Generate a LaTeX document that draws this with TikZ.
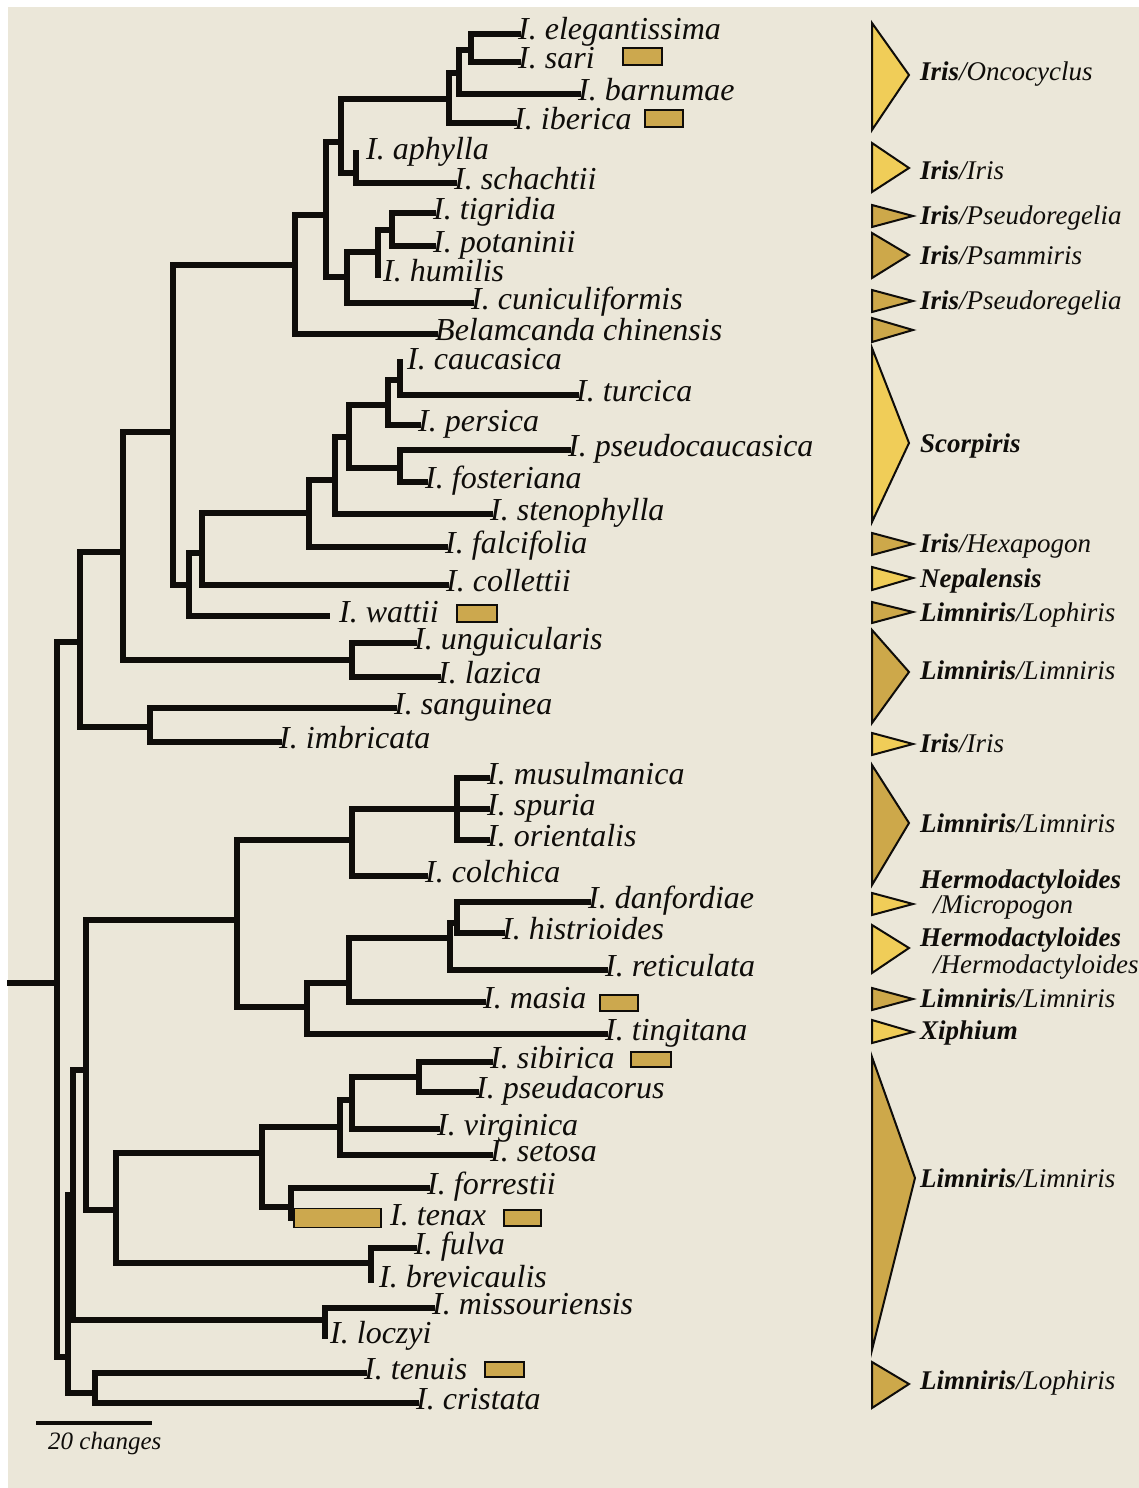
\documentclass[tikz,border=0pt]{standalone}
\usepackage{fontspec}
\setmainfont{Liberation Serif}
\definecolor{bg}{RGB}{235,231,217}
\definecolor{ink}{RGB}{15,13,10}
\definecolor{boxgold}{RGB}{204,168,78}
\definecolor{lighty}{RGB}{240,205,88}
\definecolor{goldy}{RGB}{205,168,74}
\begin{document}
\begin{tikzpicture}[x=1pt,y=-1pt,
  br/.style={line width=6pt,draw=ink,line cap=rect,line join=miter},
  leaf/.style={anchor=base west,inner sep=0pt,text=ink,font=\fontsize{32}{36}\selectfont\itshape},
  grp/.style={anchor=base west,inner sep=0pt,text=ink,font=\fontsize{27}{30}\selectfont\itshape},
  goldbox/.style={fill=boxgold,draw=ink,line width=1.8pt},
  tri/.style={draw=ink,line width=2pt,line join=miter}]
\useasboundingbox (0,0) rectangle (1139,1488);
\fill[white] (0,0) rectangle (1139,1488);
\fill[bg] (8,7) rectangle (1139,1488);

% ---------- internal nodes ----------
\coordinate (stub) at (10,983);
\coordinate (root) at (57,983);
\coordinate (nO) at (80,642);
\coordinate (nZ) at (68,1357);
\coordinate (nN) at (123,552);
\coordinate (nP) at (150,727);
\coordinate (nH) at (173,432);
\coordinate (nUL) at (352,660);
\coordinate (nG) at (295,265);
\coordinate (nM) at (189,585);
\coordinate (nE) at (326,215);
\coordinate (nD) at (341,142);
\coordinate (nF) at (347,277);
\coordinate (nC) at (449,99);
\coordinate (nB) at (459,73);
\coordinate (nES) at (471,50);
\coordinate (nAS) at (356,173);
\coordinate (nHu) at (378,252);
\coordinate (nTP) at (392,230);
\coordinate (nL) at (202,553);
\coordinate (nK) at (309,513);
\coordinate (nJ) at (335,480);
\coordinate (nI) at (349,437);
\coordinate (nPe) at (388,405);
\coordinate (nCT) at (400,380);
\coordinate (nPF) at (400,468);
\coordinate (nY) at (73,1195);
\coordinate (nTC) at (95,1393);
\coordinate (nQ) at (86,1070);
\coordinate (nML) at (325,1320);
\coordinate (nR) at (237,920);
\coordinate (nX) at (116,1210);
\coordinate (nS) at (352,840);
\coordinate (nU) at (457,809);
\coordinate (nT) at (307,1007);
\coordinate (nV) at (349,983);
\coordinate (nW) at (450,938);
\coordinate (nDH) at (457,923);
\coordinate (nX1) at (262,1153);
\coordinate (nX2) at (340,1127);
\coordinate (nX3) at (352,1100);
\coordinate (nSP) at (419,1077);
\coordinate (nFT) at (291,1207);
\coordinate (nFB) at (371,1263);

% ---------- leaves ----------
\coordinate (eleg) at (518,34);
\coordinate (sari) at (518,62);
\coordinate (barn) at (578,94);
\coordinate (iber) at (514,123);
\coordinate (aphy) at (356,153);
\coordinate (scha) at (454,183);
\coordinate (tigr) at (433,213);
\coordinate (pota) at (433,246);
\coordinate (humi) at (378,275);
\coordinate (cuni) at (471,303);
\coordinate (bela) at (435,334);
\coordinate (cauc) at (400,362);
\coordinate (turc) at (576,395);
\coordinate (pers) at (418,425);
\coordinate (pscau) at (568,450);
\coordinate (fost) at (425,482);
\coordinate (sten) at (490,514);
\coordinate (falc) at (445,547);
\coordinate (coll) at (446,585);
\coordinate (watt) at (327,616);
\coordinate (ungu) at (414,643);
\coordinate (lazi) at (438,677);
\coordinate (sang) at (394,708);
\coordinate (imbr) at (279,742);
\coordinate (musu) at (487,778);
\coordinate (spur) at (487,809);
\coordinate (orie) at (487,840);
\coordinate (colc) at (425,876);
\coordinate (danf) at (588,902);
\coordinate (hist) at (502,933);
\coordinate (reti) at (605,970);
\coordinate (masi) at (483,1002);
\coordinate (ting) at (605,1034);
\coordinate (sibi) at (490,1062);
\coordinate (pacor) at (476,1092);
\coordinate (virg) at (437,1129);
\coordinate (seto) at (490,1155);
\coordinate (forr) at (427,1188);
\coordinate (fulv) at (414,1248);
\coordinate (brev) at (371,1280);
\coordinate (miss) at (432,1308);
\coordinate (locz) at (325,1336);
\coordinate (tenu) at (364,1373);
\coordinate (cris) at (416,1403);
\coordinate (tenaxW) at (293,1218);

% ---------- branches ----------
\draw[br] (stub) -- (root);
\draw[br] (root) |- (nO) (root) |- (nZ);
\draw[br] (nO) |- (nN) (nO) |- (nP);
\draw[br] (nN) |- (nH) (nN) |- (nUL);
\draw[br] (nH) |- (nG) (nH) |- (nM);
\draw[br] (nG) |- (nE) (nG) |- (bela);
\draw[br] (nE) |- (nD) (nE) |- (nF);
\draw[br] (nD) |- (nC) (nD) |- (nAS);
\draw[br] (nC) |- (nB) (nC) |- (iber);
\draw[br] (nB) |- (nES) (nB) |- (barn);
\draw[br] (nES) |- (eleg) (nES) |- (sari);
\draw[br] (nAS) |- (aphy) (nAS) |- (scha);
\draw[br] (nF) |- (nHu) (nF) |- (cuni);
\draw[br] (nHu) |- (nTP) (nHu) |- (humi);
\draw[br] (nTP) |- (tigr) (nTP) |- (pota);
\draw[br] (nM) |- (nL) (nM) |- (watt);
\draw[br] (nL) |- (nK) (nL) |- (coll);
\draw[br] (nK) |- (nJ) (nK) |- (falc);
\draw[br] (nJ) |- (nI) (nJ) |- (sten);
\draw[br] (nI) |- (nPe) (nI) |- (nPF);
\draw[br] (nPe) |- (nCT) (nPe) |- (pers);
\draw[br] (nCT) |- (cauc) (nCT) |- (turc);
\draw[br] (nPF) |- (pscau) (nPF) |- (fost);
\draw[br] (nUL) |- (ungu) (nUL) |- (lazi);
\draw[br] (nP) |- (sang) (nP) |- (imbr);
\draw[br] (nZ) |- (nY) (nZ) |- (nTC);
\draw[br] (nY) |- (nQ) (nY) |- (nML);
\draw[br] (nQ) |- (nR) (nQ) |- (nX);
\draw[br] (nR) |- (nS) (nR) |- (nT);
\draw[br] (nS) |- (nU) (nS) |- (colc);
\draw[br] (nU) |- (musu) (nU) |- (spur) (nU) |- (orie);
\draw[br] (nT) |- (nV) (nT) |- (ting);
\draw[br] (nV) |- (nW) (nV) |- (masi);
\draw[br] (nW) |- (nDH) (nW) |- (reti);
\draw[br] (nDH) |- (danf) (nDH) |- (hist);
\draw[br] (nX) |- (nX1) (nX) |- (nFB);
\draw[br] (nX1) |- (nX2) (nX1) |- (nFT);
\draw[br] (nX2) |- (nX3) (nX2) |- (seto);
\draw[br] (nX3) |- (nSP) (nX3) |- (virg);
\draw[br] (nSP) |- (sibi) (nSP) |- (pacor);
\draw[br] (nFT) |- (forr) (nFT) |- (tenaxW);
\draw[br] (nFB) |- (fulv) (nFB) |- (brev);
\draw[br] (nML) |- (miss) (nML) |- (locz);
\draw[br] (nTC) |- (tenu) (nTC) |- (cris);
\node[goldbox,minimum width=87pt,minimum height=19pt,anchor=west,inner sep=0pt] (tenaxbar) at (tenaxW) {};

% ---------- leaf labels ----------
\node[leaf] (Leleg) at ([yshift=-6pt]eleg) {I. elegantissima};
\node[leaf] (Lsari) at ([yshift=-6pt]sari) {I. sari};
\node[leaf] (Lbarn) at ([yshift=-6pt]barn) {I. barnumae};
\node[leaf] (Liber) at ([yshift=-6pt]iber) {I. iberica};
\node[leaf] (Laphy) at (366,159) {I. aphylla};
\node[leaf] (Lscha) at ([yshift=-6pt]scha) {I. schachtii};
\node[leaf] (Ltigr) at ([yshift=-6pt]tigr) {I. tigridia};
\node[leaf] (Lpota) at ([yshift=-6pt]pota) {I. potaninii};
\node[leaf] (Lhumi) at (383,281) {I. humilis};
\node[leaf] (Lcuni) at ([yshift=-6pt]cuni) {I. cuniculiformis};
\node[leaf] (Lbela) at ([yshift=-6pt]bela) {Belamcanda chinensis};
\node[leaf] (Lcauc) at (407,369) {I. caucasica};
\node[leaf] (Lturc) at ([yshift=-6pt]turc) {I. turcica};
\node[leaf] (Lpers) at ([yshift=-6pt]pers) {I. persica};
\node[leaf] (Lpscau) at ([yshift=-6pt]pscau) {I. pseudocaucasica};
\node[leaf] (Lfost) at ([yshift=-6pt]fost) {I. fosteriana};
\node[leaf] (Lsten) at ([yshift=-6pt]sten) {I. stenophylla};
\node[leaf] (Lfalc) at ([yshift=-6pt]falc) {I. falcifolia};
\node[leaf] (Lcoll) at ([yshift=-6pt]coll) {I. collettii};
\node[leaf] (Lwatt) at (339,622) {I. wattii};
\node[leaf] (Lungu) at ([yshift=-6pt]ungu) {I. unguicularis};
\node[leaf] (Llazi) at ([yshift=-6pt]lazi) {I. lazica};
\node[leaf] (Lsang) at ([yshift=-6pt]sang) {I. sanguinea};
\node[leaf] (Limbr) at ([yshift=-6pt]imbr) {I. imbricata};
\node[leaf] (Lmusu) at ([yshift=-6pt]musu) {I. musulmanica};
\node[leaf] (Lspur) at ([yshift=-6pt]spur) {I. spuria};
\node[leaf] (Lorie) at ([yshift=-6pt]orie) {I. orientalis};
\node[leaf] (Lcolc) at ([yshift=-6pt]colc) {I. colchica};
\node[leaf] (Ldanf) at ([yshift=-6pt]danf) {I. danfordiae};
\node[leaf] (Lhist) at ([yshift=-6pt]hist) {I. histrioides};
\node[leaf] (Lreti) at ([yshift=-6pt]reti) {I. reticulata};
\node[leaf] (Lmasi) at ([yshift=-6pt]masi) {I. masia};
\node[leaf] (Lting) at ([yshift=-6pt]ting) {I. tingitana};
\node[leaf] (Lsibi) at ([yshift=-6pt]sibi) {I. sibirica};
\node[leaf] (Lpacor) at ([yshift=-6pt]pacor) {I. pseudacorus};
\node[leaf] (Lvirg) at ([yshift=-6pt]virg) {I. virginica};
\node[leaf] (Lseto) at ([yshift=-6pt]seto) {I. setosa};
\node[leaf] (Lforr) at ([yshift=-6pt]forr) {I. forrestii};
\node[leaf] (Ltena) at (390,1225) {I. tenax};
\node[leaf] (Lfulv) at ([yshift=-6pt]fulv) {I. fulva};
\node[leaf] (Lbrev) at (379,1287) {I. brevicaulis};
\node[leaf] (Lmiss) at ([yshift=-6pt]miss) {I. missouriensis};
\node[leaf] (Llocz) at (330,1343) {I. loczyi};
\node[leaf] (Ltenu) at ([yshift=-6pt]tenu) {I. tenuis};
\node[leaf] (Lcris) at ([yshift=-6pt]cris) {I. cristata};

% ---------- gold boxes ----------
\draw[goldbox] (623,48) rectangle (662,65);
\draw[goldbox] (645,110) rectangle (683,127);
\draw[goldbox] (457,605) rectangle (497,622);
\draw[goldbox] (600,995) rectangle (638,1011);
\draw[goldbox] (631,1052) rectangle (671,1067);
\draw[goldbox] (504,1210) rectangle (541,1226);
\draw[goldbox] (485,1362) rectangle (524,1377);

% ---------- scale bar ----------
\coordinate (sbA) at (36,1423);
\coordinate (sbB) at (152,1423);
\draw[line width=4.5pt,draw=ink] (sbA) -- (sbB);
\node[anchor=base west,inner sep=0pt,text=ink,font=\fontsize{25}{28}\selectfont\itshape] (sbL) at (48,1449) {20 changes};

% ---------- clade triangles ----------
\draw[tri,fill=lighty] (872,23) -- (909,75) -- (872,130) -- cycle;
\draw[tri,fill=lighty] (872,143) -- (909,168) -- (872,192) -- cycle;
\draw[tri,fill=goldy] (872,205) -- (913,216) -- (872,227) -- cycle;
\draw[tri,fill=goldy] (872,233) -- (909,255) -- (872,278) -- cycle;
\draw[tri,fill=goldy] (872,290) -- (913,301) -- (872,312) -- cycle;
\draw[tri,fill=goldy] (872,318) -- (913,330) -- (872,342) -- cycle;
\draw[tri,fill=lighty] (872,348) -- (909,443) -- (872,522) -- cycle;
\draw[tri,fill=goldy] (872,533) -- (913,544) -- (872,555) -- cycle;
\draw[tri,fill=lighty] (872,567) -- (913,578) -- (872,590) -- cycle;
\draw[tri,fill=goldy] (872,602) -- (913,612) -- (872,623) -- cycle;
\draw[tri,fill=goldy] (872,630) -- (909,672) -- (872,723) -- cycle;
\draw[tri,fill=lighty] (872,733) -- (913,744) -- (872,755) -- cycle;
\draw[tri,fill=goldy] (872,765) -- (909,823) -- (872,885) -- cycle;
\draw[tri,fill=lighty] (872,893) -- (913,904) -- (872,915) -- cycle;
\draw[tri,fill=lighty] (872,925) -- (909,948) -- (872,973) -- cycle;
\draw[tri,fill=goldy] (872,988) -- (913,999) -- (872,1010) -- cycle;
\draw[tri,fill=lighty] (872,1020) -- (913,1032) -- (872,1043) -- cycle;
\draw[tri,fill=goldy] (872,1057) -- (915,1178) -- (872,1350) -- cycle;
\draw[tri,fill=goldy] (872,1362) -- (909,1384) -- (872,1408) -- cycle;

% ---------- clade labels ----------
\node[grp] (g1) at (920,81) {\textbf{Iris}/Oncocyclus};
\node[grp] (g2) at (920,179) {\textbf{Iris}/Iris};
\node[grp] (g3) at (920,224) {\textbf{Iris}/Pseudoregelia};
\node[grp] (g4) at (920,264) {\textbf{Iris}/Psammiris};
\node[grp] (g5) at (920,309) {\textbf{Iris}/Pseudoregelia};
\node[grp] (g7) at (920,452) {\textbf{Scorpiris}};
\node[grp] (g8) at (920,552) {\textbf{Iris}/Hexapogon};
\node[grp] (g9) at (920,587) {\textbf{Nepalensis}};
\node[grp] (g10) at (920,621) {\textbf{Limniris}/Lophiris};
\node[grp] (g11) at (920,679) {\textbf{Limniris}/Limniris};
\node[grp] (g12) at (920,752) {\textbf{Iris}/Iris};
\node[grp] (g13) at (920,832) {\textbf{Limniris}/Limniris};
\node[grp] (g14a) at (920,888) {\textbf{Hermodactyloides}};
\node[grp] (g14b) at (933,913) {/Micropogon};
\node[grp] (g15a) at (920,946) {\textbf{Hermodactyloides}};
\node[grp] (g15b) at (933,973) {/Hermodactyloides};
\node[grp] (g16) at (920,1007) {\textbf{Limniris}/Limniris};
\node[grp] (g17) at (920,1039) {\textbf{Xiphium}};
\node[grp] (g18) at (920,1187) {\textbf{Limniris}/Limniris};
\node[grp] (g19) at (920,1389) {\textbf{Limniris}/Lophiris};
\end{tikzpicture}
\end{document}
